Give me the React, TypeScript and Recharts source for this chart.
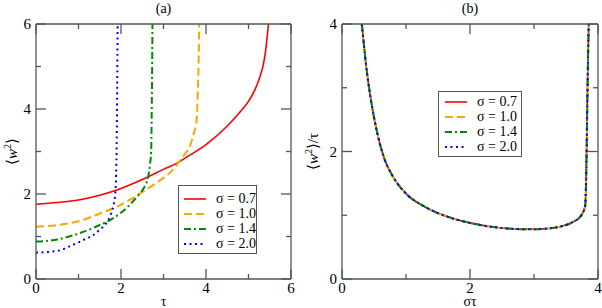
import React from "react";
import { LineChart, Line, XAxis, YAxis, Legend, Label } from "recharts";

const FONT = '"Liberation Serif", "DejaVu Serif", "Noto Serif", FreeSerif, Times, serif';
const FRAME = "#555";

// panel (a): <w^2> against tau for each sigma
const TAU_07 = [0, 0.5, 1.0, 1.5, 2.0, 2.5, 3.0, 3.36, 3.5, 4.0, 4.5, 4.8, 5.0, 5.15, 5.27, 5.35, 5.4, 5.44, 5.47];
const W2_07 = [1.76, 1.8, 1.86, 1.97, 2.13, 2.34, 2.58, 2.75, 2.84, 3.16, 3.6, 3.93, 4.18, 4.45, 4.76, 5.05, 5.35, 5.7, 6.0];

const TAU_10 = [0, 0.5, 1.0, 1.5, 2.0, 2.43, 2.8, 3.0, 3.2, 3.36, 3.5, 3.62, 3.7, 3.78, 3.81, 3.83, 3.84];
const W2_10 = [1.23, 1.27, 1.36, 1.54, 1.75, 2.0, 2.24, 2.38, 2.55, 2.75, 2.94, 3.12, 3.38, 3.75, 4.5, 5.3, 6.0];

const TAU_14 = [0, 0.5, 1.0, 1.5, 1.8, 2.0, 2.2, 2.43, 2.53, 2.64, 2.68, 2.71, 2.72, 2.73, 2.74];
const W2_14 = [0.88, 0.93, 1.07, 1.27, 1.42, 1.56, 1.74, 2.0, 2.13, 2.41, 2.68, 3.0, 3.7, 4.6, 6.0];

const TAU_20 = [0, 0.5, 0.86, 1.0, 1.2, 1.33, 1.5, 1.65, 1.75, 1.82, 1.86, 1.88, 1.89, 1.9, 1.91, 1.92];
const W2_20 = [0.62, 0.66, 0.8, 0.86, 0.96, 1.02, 1.16, 1.31, 1.49, 1.72, 1.95, 2.25, 2.7, 3.3, 4.5, 6.0];

// panel (b): <w^2>/tau against sigma*tau, all four sigmas collapse on this curve
const SIGMA_TAU = [0.31, 0.35, 0.385, 0.42, 0.46, 0.54, 0.65, 0.8, 1.0, 1.3, 1.7, 2.0, 2.4, 2.9, 3.2, 3.4, 3.6, 3.74, 3.8, 3.815, 3.825, 3.835, 3.845, 3.855];
const W2_OVER_TAU = [4.0, 3.6, 3.28, 3.02, 2.76, 2.34, 1.92, 1.6, 1.34, 1.13, 0.96, 0.88, 0.81, 0.78, 0.79, 0.82, 0.89, 1.0, 1.15, 1.6, 2.2, 2.9, 3.5, 4.0];

const SIGMAS = ["0.7", "1.0", "1.4", "2.0"];

const X_TICKS_A = [0, 1, 2, 3, 4, 5, 6];
const Y_TICKS_A = [0, 1, 2, 3, 4, 5, 6];
const LABELS_A = [0, 2, 4, 6];
const X_TICKS_B = [0, 1, 2, 3, 4];
const Y_TICKS_B = [0, 1, 2, 3, 4];
const LABELS_B = [0, 2, 4];

const STYLES = [
  { color: "#ff0000", dash: undefined as string | undefined, width: 1.6 },
  { color: "#ffa500", dash: "8 4", width: 2 },
  { color: "#008b00", dash: "7 3 2 3", width: 2 },
  { color: "#0000ff", dash: "2 3.5", width: 2 },
];

const zip = (xs: number[], ys: number[]) => xs.map((t, i) => ({ t, v: ys[i] }));
const seriesA = [zip(TAU_07, W2_07), zip(TAU_10, W2_10), zip(TAU_14, W2_14), zip(TAU_20, W2_20)];
const dataB = zip(SIGMA_TAU, W2_OVER_TAU);

// inward ticks on all four sides, labels only on bottom/left majors
function tickFor(side: "top" | "bottom" | "left" | "right", labelled: number[]) {
  return (p: any) => {
    const { x, y, payload } = p;
    const v = payload.value;
    const major = labelled.includes(v);
    const len = major ? 10 : 5;
    let x2 = x, y2 = y;
    if (side === "bottom") y2 = y - len;
    if (side === "top") y2 = y + len;
    if (side === "left") x2 = x + len;
    if (side === "right") x2 = x - len;
    let text = null;
    if (major && side === "bottom")
      text = <text x={x} y={y + 14} textAnchor="middle" fontFamily={FONT} fontSize={15} fill="#000">{v}</text>;
    if (major && side === "left")
      text = <text x={x - 5} y={y + 5} textAnchor="end" fontFamily={FONT} fontSize={15} fill="#000">{v}</text>;
    return (
      <g>
        <line x1={x} y1={y} x2={x2} y2={y2} stroke={FRAME} strokeWidth={1.3} />
        {text}
      </g>
    );
  };
}

function LegendBox({ width, padTop, padLeft }: { width: number; padTop: number; padLeft: number }) {
  return (
    <div style={{ width, boxSizing: "border-box", border: `1px solid ${FRAME}`, background: "#fff", padding: `${padTop}px 0 2px ${padLeft}px`, fontFamily: FONT, fontSize: 14, color: "#000" }}>
      {SIGMAS.map((s, i) => (
        <div key={s} style={{ display: "flex", alignItems: "center", height: 15 }}>
          <svg width={22} height={6} style={{ display: "block" }}>
            <line x1={0} y1={3} x2={22} y2={3} stroke={STYLES[i].color} strokeWidth={STYLES[i].width} strokeDasharray={STYLES[i].dash} />
          </svg>
          <span style={{ marginLeft: 10, lineHeight: "15px", whiteSpace: "nowrap" }}>σ = {s}</span>
        </div>
      ))}
    </div>
  );
}

const axisLine = { stroke: FRAME, strokeWidth: 1.3 };

function Frame({ xTicks, yTicks, labels, xMax, yMax, title, xLabel, yLabel, yLabelX }: any) {
  return [
    <XAxis key="xb" xAxisId="b" type="number" dataKey="t" domain={[0, xMax]} ticks={xTicks} interval={0} allowDataOverflow
      height={29} tickSize={0} tickMargin={0} tickLine={false} axisLine={axisLine} tick={tickFor("bottom", labels)}>
      <Label content={(p: any) => (
        <text x={p.viewBox.x + p.viewBox.width / 2} y={p.viewBox.y + 27} textAnchor="middle" fontFamily={FONT} fontSize={14} fill="#000">{xLabel}</text>
      )} />
    </XAxis>,
    <XAxis key="xt" xAxisId="t" orientation="top" type="number" dataKey="t" domain={[0, xMax]} ticks={xTicks} interval={0} allowDataOverflow
      height={1} tickSize={0} tickMargin={0} tickLine={false} axisLine={axisLine} tick={tickFor("top", labels)}>
      <Label content={(p: any) => (
        <text x={p.viewBox.x + p.viewBox.width / 2} y={13} textAnchor="middle" fontFamily={FONT} fontSize={14} fill="#000">{title}</text>
      )} />
    </XAxis>,
    <YAxis key="yl" yAxisId="l" type="number" domain={[0, yMax]} ticks={yTicks} interval={0} allowDataOverflow
      width={yLabelX.w} tickSize={0} tickMargin={0} tickLine={false} axisLine={axisLine} tick={tickFor("left", labels)}>
      <Label content={(p: any) => {
        const cx = yLabelX.x;
        const cy = p.viewBox.y + p.viewBox.height / 2;
        return (
          <text x={cx} y={cy} transform={`rotate(-90 ${cx} ${cy})`} textAnchor="middle" fontFamily={FONT} fontSize={15} fill="#000">
            ⟨<tspan fontStyle="italic">w</tspan><tspan dy={-6} fontSize={10}>2</tspan><tspan dy={6}>⟩</tspan>{yLabel}
          </text>
        );
      }} />
    </YAxis>,
    <YAxis key="yr" yAxisId="r" orientation="right" type="number" domain={[0, yMax]} ticks={yTicks} interval={0} allowDataOverflow
      width={1} tickSize={0} tickMargin={0} tickLine={false} axisLine={axisLine} tick={tickFor("right", labels)} />,
  ];
}

export default function App() {
  return (
    <div style={{ position: "fixed", left: 0, top: 0, width: 602, height: 308, background: "#fff" }}>
      <div style={{ position: "absolute", left: 0, top: 0 }}>
        <LineChart width={300} height={308} margin={{ top: 23, right: 8, bottom: 0, left: 6 }}>
          {Frame({ xTicks: X_TICKS_A, yTicks: Y_TICKS_A, labels: LABELS_A, xMax: 6, yMax: 6, title: "(a)", xLabel: "τ", yLabel: "", yLabelX: { w: 30, x: 17 } })}
          {seriesA.map((d, i) => (
            <Line key={SIGMAS[i]} xAxisId="b" yAxisId="l" data={d} dataKey="v" name={`σ = ${SIGMAS[i]}`} type="monotone"
              stroke={STYLES[i].color} strokeWidth={STYLES[i].width} strokeDasharray={STYLES[i].dash}
              dot={false} activeDot={false} isAnimationActive={false} />
          ))}
          <Legend layout="horizontal" verticalAlign="middle" align="center"
            wrapperStyle={{ left: 178, top: 185, width: 79 }}
            content={() => <LegendBox width={79} padTop={5} padLeft={5} />} />
        </LineChart>
      </div>
      <div style={{ position: "absolute", left: 300, top: 0 }}>
        <LineChart width={302} height={308} data={dataB} margin={{ top: 23, right: 3, bottom: 0, left: 6 }}>
          {Frame({ xTicks: X_TICKS_B, yTicks: Y_TICKS_B, labels: LABELS_B, xMax: 4, yMax: 4, title: "(b)", xLabel: "στ", yLabel: "/τ", yLabelX: { w: 36, x: 18 } })}
          {SIGMAS.map((s, i) => (
            <Line key={s} xAxisId="b" yAxisId="l" dataKey="v" name={`σ = ${s}`} type="monotone"
              stroke={STYLES[i].color} strokeWidth={STYLES[i].width} strokeDasharray={STYLES[i].dash}
              dot={false} activeDot={false} isAnimationActive={false} />
          ))}
          <Legend layout="horizontal" verticalAlign="middle" align="center"
            wrapperStyle={{ left: 138, top: 91, width: 84 }}
            content={() => <LegendBox width={84} padTop={2} padLeft={6} />} />
        </LineChart>
      </div>
    </div>
  );
}
